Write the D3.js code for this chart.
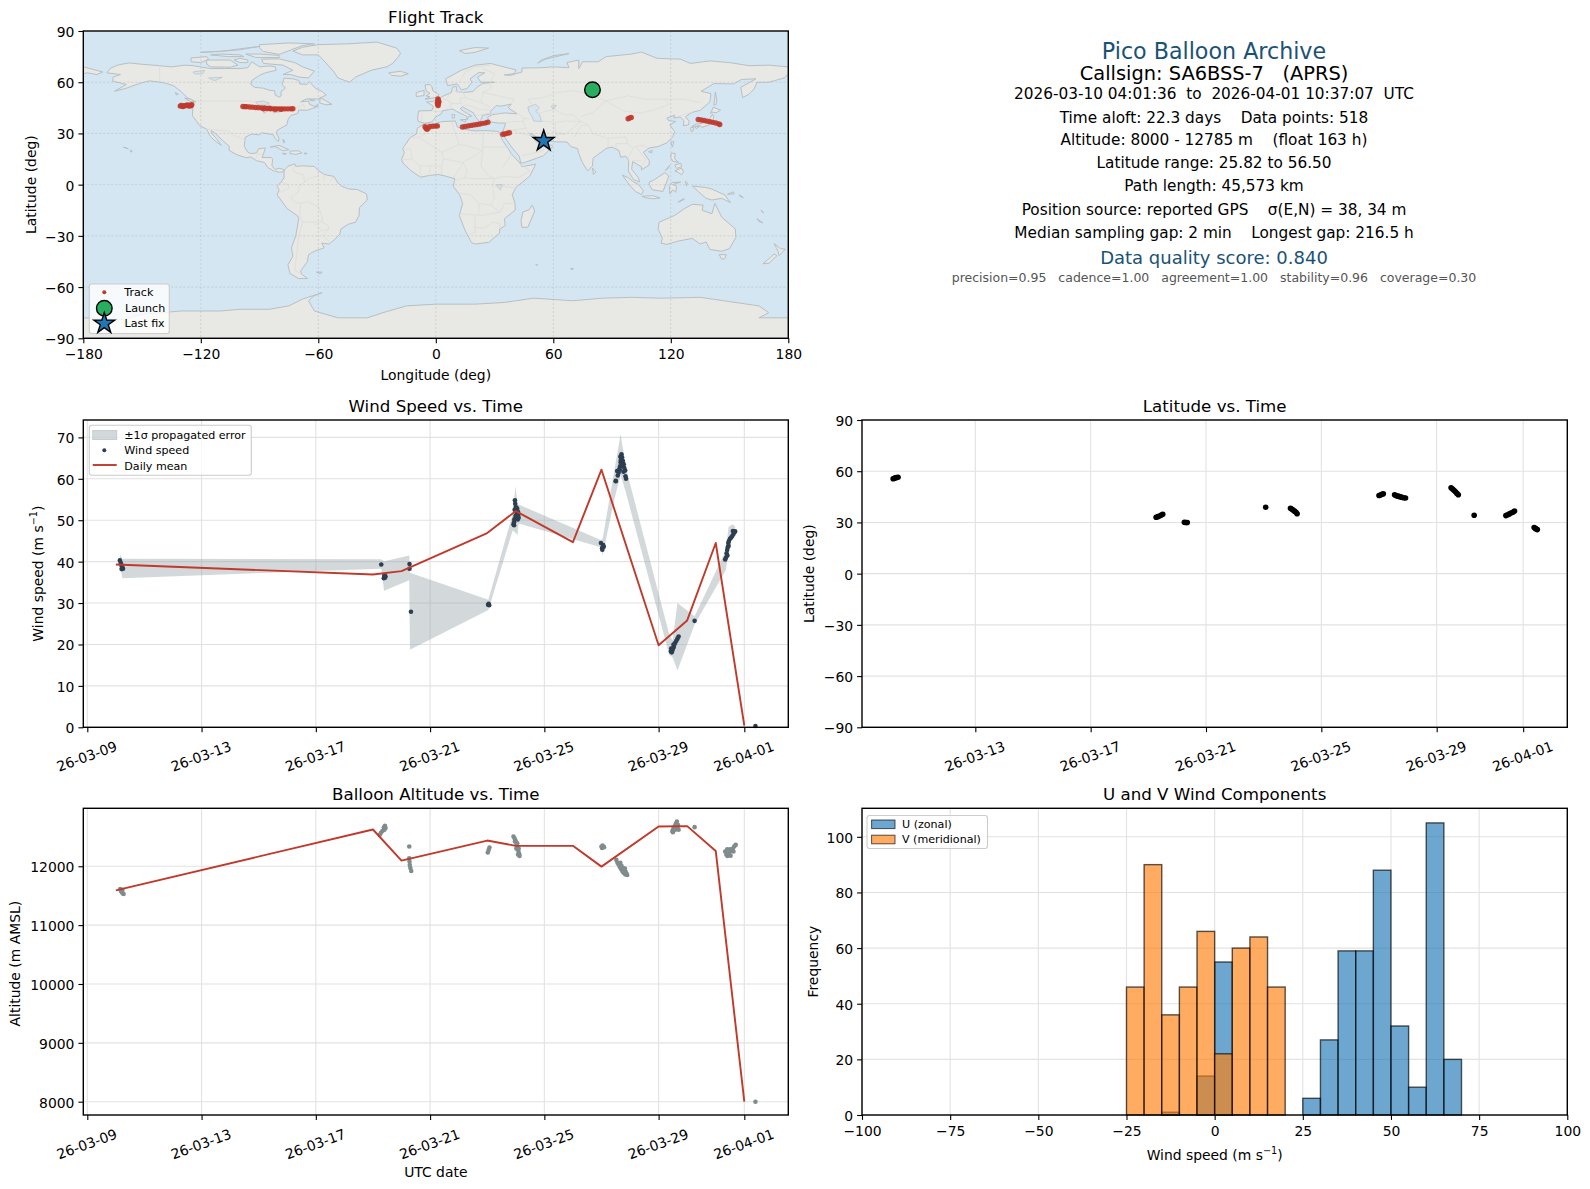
<!DOCTYPE html>
<html><head><meta charset="utf-8">
<script src="https://cdn.jsdelivr.net/npm/d3@7"></script>
<style>html,body{margin:0;padding:0;background:#fff}svg{display:block}text{font-family:"DejaVu Sans",sans-serif;fill:#000}</style>
</head><body><svg id="c" width="1590" height="1189"></svg>
<script>
// ---------- categories / labels ----------
const dateTickLabels = ["2026-03-09","2026-03-13","2026-03-17","2026-03-21","2026-03-25","2026-03-29","2026-04-01"];
const latDateTickLabels = dateTickLabels.slice(1);
const lonTicks = [-180,-120,-60,0,60,120,180];
const latTicks = [-90,-60,-30,0,30,60,90];
const windTicks = [0,10,20,30,40,50,60,70];
const altTicks = [8000,9000,10000,11000,12000];
const histXTicks = [-100,-75,-50,-25,0,25,50,75,100];
const histYTicks = [0,20,40,60,80,100];
const infoLines = [
 ["Pico Balloon Archive",22.2,"#1a5276"],
 ["Callsign: SA6BSS-7   (APRS)",19.4,"#000"],
 ["2026-03-10 04:01:36  to  2026-04-01 10:37:07  UTC",15.3,"#000"],
 ["Time aloft: 22.3 days    Data points: 518",15.3,"#000"],
 ["Altitude: 8000 - 12785 m    (float 163 h)",15.3,"#000"],
 ["Latitude range: 25.82 to 56.50",15.3,"#000"],
 ["Path length: 45,573 km",15.3,"#000"],
 ["Position source: reported GPS    σ(E,N) = 38, 34 m",15.3,"#000"],
 ["Median sampling gap: 2 min    Longest gap: 216.5 h",15.3,"#000"],
 ["Data quality score: 0.840",18,"#1a5276"],
 ["precision=0.95   cadence=1.00   agreement=1.00   stability=0.96   coverage=0.30",12.5,"#555"]
];
// ---------- map track (lon, lat) ----------
const trackLon = [-130.5,-129.5,-128.5,-127.5,-126.5,-125.5,-124.6,-130,-127,-125,-129,-126,
 -98.5,-97.5,-96.5,-95,-93.5,-92,-90.5,-89,-87.5,-86,-84.5,-83,-81.5,-80,-78.5,-77,-75.5,-74,-73,-88,-85,-82,-79,
 -5.5,-5,-4.5,-4,-3,-1.5,0,0.8,
 1.1,1.2,1.3,1.2,1.1,1.0,1.2,1.6,0.8,
 13.6,15,16.5,18,19.5,21,22.5,24,25.5,26.6,
 34.2,35.2,36.5,37.6,
 98.2,99,99.8,
 134,135.5,137,138.5,140,141.5,143,144.5,145,
 81.5];
const trackLat = [46.0,46.1,46.2,46.3,46.4,46.6,46.9,46.4,46.7,46.2,45.8,46,
 45.8,45.7,45.7,45.5,45.4,45.2,45.1,45.0,44.9,44.6,44.5,44.4,44.4,44.4,44.4,44.4,44.4,44.4,44.5,44.5,44.8,44.1,44.1,
 33.9,33.0,32.4,33.1,34.1,34.2,34.3,34.4,
 50.2,49.6,49,48.4,47.6,46.9,46.3,48.5,47.8,
 33.8,34.1,34.4,34.7,35,35.2,35.5,35.9,36.2,36.6,
 29.5,29.7,30.1,30.4,
 38.6,39,39.4,
 38.2,37.9,37.6,37.2,36.9,36.5,36.1,35.6,35.2,
 56];
const launchFix = [80.0,55.6];
const lastFix = [55.1,25.6];
// ---------- latitude vs time ----------
const latDay = [1.15,1.19,1.23,1.27,1.32,10.27,10.33,10.39,10.45,10.5,11.25,11.3,11.35,14.07,14.93,14.97,15.02,15.07,15.12,15.16,
 18,18.05,18.1,18.15,18.54,18.6,18.66,18.72,18.78,18.85,18.92,20.5,20.55,20.6,20.65,20.7,20.75,21.3,22.4,22.46,22.52,22.58,22.64,22.7,23.38,23.42,23.46,23.49];
const latVal = [55.6,55.9,56.1,56.3,56.5,33,33.4,33.8,34.3,34.8,30.1,30,30,38.9,38.3,37.8,37.3,36.6,35.9,35.1,
 45.8,46.1,46.5,46.8,46.2,45.7,45.4,45.1,44.8,44.5,44.3,50.3,49.6,48.8,48,47,46.2,34.2,34,34.5,35,35.5,36,36.7,27,26.5,26.1,25.8];
// ---------- wind speed ----------
const windDay = [1.14,1.17,1.19,1.21,1.23,1.25,1.2,10.29,10.38,10.4,10.42,10.44,10.41,11.28,11.28,11.33,14.05,14.03,14.07,
 14.92,14.94,14.95,14.97,14.98,15,15.01,15.03,15.04,15.05,15.07,15.08,15.1,14.96,14.99,15.02,15.05,15.08,14.94,
 17.98,18.02,18.05,18.03,18.08,18.06,
 18.5,18.55,18.6,18.62,18.65,18.67,18.7,18.72,18.75,18.78,18.8,18.83,18.86,18.5,18.68,18.7,18.57,18.64,18.72,18.77,18.84,18.66,
 20.43,20.46,20.48,20.5,20.53,20.55,20.58,20.62,20.66,20.7,20.44,20.47,20.52,21.26,
 22.33,22.36,22.38,22.4,22.42,22.44,22.46,22.5,22.54,22.58,22.62,22.65,22.68,22.41,22.45,22.6,23.39];
const windVal = [40.3,39.7,39.3,38.8,38.5,38.3,38.2,39.3,36,36.5,36.1,36.4,36.7,38.3,39.4,27.9,29.8,29.6,29.5,
 49,49.5,50.2,54.8,54,53.2,52.2,51.5,51,50.5,50.2,51.2,50.6,52.5,51,53,52.8,52,48.8,
 44.5,43.2,43.7,42.9,43.6,44,
 59.5,61.9,61.5,62.3,63,64,65.9,65.2,64.3,63.5,62.6,62,60,59.4,64.5,63.3,60.8,62.2,63.1,61.7,60.6,65.3,
 18.3,18.1,18.6,19,19.4,20,20.4,20.9,21.4,21.9,19,18.8,20,25.7,
 40.5,41,42,42.8,43.5,44.5,45,45.5,45.8,46.2,46.7,47.1,47.3,41.5,43.8,47.4,0.3];
const bandDay = [1.14,1.225,10.29,10.39,11.27,11.295,14.04,14.89,14.99,15.06,15.10,17.98,18.04,18.45,18.67,18.86,20.37,20.49,20.66,21.26,22.35,22.45,22.59,22.68];
const bandLow = [39.5,36,38.3,33,35.5,18.7,28.3,47.5,47,46.4,49.2,43.5,41.5,55,61,56.5,17.5,16.9,13.7,24.8,37.9,42,46.8,46.5];
const bandHigh = [41.8,40.7,40.6,40.1,41.5,37.3,30.8,51.5,58.2,54,53.8,45.2,45.5,62,70.8,62.5,22.5,21,30,26.8,42.7,48.4,49,48.5];
const meanDay = [1,10,11,14,15,17,18,20,21,22,23];
const meanWind = [39.3,36.9,37.7,46.9,52.2,44.7,62.2,19.8,25.8,44.5,0.4];
// ---------- altitude ----------
const meanAlt = [11591,12625,12097,12437,12347,12347,11994,12676,12682,12261,8000];
const altDay = [1.15,1.18,1.21,1.24,1.27,1.23,10.24,10.28,10.33,10.38,10.42,10.44,10.4,11.27,11.27,11.28,11.29,11.31,11.34,
 14.02,14.05,14.08,14.92,14.96,15,15.03,15.06,15.09,15.12,15.13,15.02,14.97,15.05,15.1,15.08,18,18.04,18.09,18.02,
 18.52,18.56,18.6,18.64,18.68,18.72,18.76,18.8,18.84,18.88,18.9,18.7,18.66,18.75,18.82,18.85,18.79,
 20.48,20.52,20.56,20.6,20.64,20.68,20.7,20.5,20.58,20.66,21.26,
 22.33,22.37,22.41,22.45,22.5,22.55,22.6,22.65,22.7,22.4,22.47,22.52,22.62,23.39];
const altVal = [11614,11580,11560,11540,11528,11600,12534,12570,12600,12660,12688,12650,12620,12335,12136,12080,12020,11970,11920,
 12233,12275,12318,12506,12470,12430,12370,12320,12260,12210,12176,12300,12420,12390,12300,12200,12335,12350,12325,12310,
 12108,12060,12030,11990,11960,11930,11900,11880,11860,11870,11852,12010,12060,11970,11960,11900,11930,
 12600,12640,12680,12720,12761,12700,12620,12580,12620,12660,12665,
 12250,12200,12176,12220,12290,12260,12300,12340,12364,12290,12210,12180,12250,8000];
// ---------- histogram ----------
const binStart = [-25,-20,-15,-10,-5,0,5,10,15,20,25,30,35,40,45,50,55,60,65];
const binWidth = 5;
const uCounts = [0,0,1,0,14,55,0,0,0,0,6,27,59,59,88,32,10,105,20];
const vCounts = [46,90,36,46,66,22,60,64,46,0,0,0,0,0,0,0,0,0,0];
// ---------- world outline (lon,lat) ----------
const landPolygons = [
 // Chukotka wrap
 [[-180,69],[-175,67.5],[-170,66],[-173,64.5],[-178,65.5],[-180,65]],
 // North America
 [[-168,65.5],[-166,68.3],[-162,70.2],[-156.5,71.3],[-150,70.5],[-141,69.7],[-135,69],[-128,70],[-124,69.7],[-115,68],[-108,68],[-100,68],[-96,68.5],[-94,72],[-90,69],[-85,69.5],[-82,69],[-81.5,67],[-87,65.5],[-90,64],[-94,61],[-94.5,58.7],[-92.5,57],[-88,56.5],[-85,55.3],[-82.3,55],[-82,52.5],[-80,51.3],[-79,52],[-79,54.5],[-76.8,56.5],[-78.5,58.8],[-77.5,62.4],[-73,62],[-70,61],[-69.5,59],[-66,58.7],[-64.5,60.3],[-61.5,56.5],[-58,54.5],[-56,52.5],[-60,50.2],[-66,50.2],[-69,48.5],[-65,49],[-64.5,47],[-61,45.5],[-65.5,43.6],[-70,43.7],[-70.5,41.7],[-74,40.5],[-75.5,38],[-76,35],[-78,33.8],[-81,31.8],[-81.3,30],[-80,26.8],[-80.5,25.2],[-82,27],[-83,29.2],[-85.5,29.8],[-89,30.3],[-90,29.2],[-94,29.6],[-97.3,27.8],[-97.8,22.5],[-96,19],[-94.5,18.2],[-91.5,18.6],[-90.5,21],[-87,21.5],[-88,18],[-88.7,15.9],[-84,15.9],[-83.3,14.9],[-83.7,11],[-82,9],[-79.6,9.6],[-77.3,8.6],[-78,7.5],[-80,7.3],[-83,8.2],[-85.7,10],[-87.5,13],[-91.5,14],[-94.5,16.2],[-97,15.8],[-101.5,17.5],[-105.5,20],[-105.5,22.5],[-109,26],[-112.5,30],[-114.7,31.7],[-114.5,30],[-112,27],[-109.5,23],[-112,25],[-115,28],[-117,32.5],[-120.6,34.6],[-122.5,37.7],[-124.3,40.4],[-124,46],[-124.7,48.4],[-122.5,48.5],[-127,51],[-130,54.5],[-134,58],[-139,59.7],[-146,60.8],[-151,59.4],[-158,56.5],[-164,54.7],[-158,58.7],[-165,60.6],[-164.8,63],[-161,64.5]],
 // Arctic islands
 [[-80,73.7],[-72,71.5],[-68,69],[-62,66.5],[-65,62.5],[-70,63],[-74,64.5],[-78,64.5],[-73,67],[-78,70],[-88,71],[-89,73.5]],
 [[-117,73],[-105,73],[-101,70],[-105,68.8],[-115,69],[-117,70.5]],
 [[-125,74.2],[-117,75],[-116,73.5],[-120,71.5],[-125,72]],
 [[-90,80],[-88,78],[-80,76.3],[-76,78],[-68,81.5],[-62,82.5],[-75,83],[-90,82]],
 [[-97,76.5],[-92,74.5],[-80,74.5],[-80,75.7],[-90,76.5]],
 [[-110,76.5],[-100,76],[-98,75],[-106,75],[-115,76]],
 [[-120,77.5],[-105,78.5],[-100,79],[-90,81],[-97,80],[-110,78]],
 [[-100,74],[-96,73],[-96,71.5],[-100,71.5],[-103,73]],
 [[-59,51],[-53,47],[-56,46.8],[-59.3,47.8]],
 [[-64.5,49.9],[-61.8,49.3],[-64,49.2]],
 [[-60.5,47],[-60,46],[-61.5,45.6]],
 [[-128.2,50.7],[-125,50],[-123.5,48.4],[-125.5,48.8]],
 [[-133,54],[-131.5,53],[-132.5,52.5]],
 [[-84.5,22],[-80,23],[-75,20.5],[-78,19.9],[-82,22.3]],
 [[-74.4,19.7],[-70,19.8],[-68.4,18.6],[-71.5,17.7],[-74.4,18.2]],
 [[-78.3,18.4],[-76.3,18.1],[-77.5,17.8]],
 [[-67.2,18.5],[-65.7,18.3],[-67,17.9]],
 [[-78,26.7],[-77,25],[-77.8,24.5]],
 [[-156,20.2],[-155,19.7],[-155.7,19]],
 [[-159.5,22],[-158,21.4],[-157,21]],
 // Greenland
 [[-73,78.2],[-68,76],[-60,76],[-55,70],[-52,66],[-50,62.5],[-44,60],[-41,63],[-33,67],[-25,69],[-22,71],[-19,75],[-18,77],[-20,80],[-30,83.5],[-45,82.5],[-60,82],[-68,80.5]],
 // South America
 [[-77.3,8.6],[-75.5,10.8],[-72,12.2],[-71.5,10.7],[-68,11],[-62,10.7],[-60,8.3],[-57,6],[-52,4.8],[-50,1],[-48,-1],[-44.5,-2.5],[-40,-2.9],[-35.3,-5.5],[-35,-9],[-39,-13.5],[-39.2,-18],[-41,-22],[-44.7,-23.2],[-48.5,-26],[-49,-29],[-52,-32.5],[-54.5,-34.8],[-58.3,-34.2],[-57,-37],[-62,-39],[-65,-41],[-65.5,-45],[-69,-50.5],[-68.5,-52.5],[-65.5,-55],[-70,-55],[-74.5,-52],[-75.5,-47],[-73,-42],[-73.7,-37],[-71.5,-30],[-70,-20],[-70.5,-18.3],[-76,-14],[-81,-6],[-80,-3],[-81,-1],[-79,1.5],[-77.5,4],[-77.5,7]],
 [[-61,-51.2],[-58,-51.3],[-59,-52.2]],
 // Africa
 [[-5.8,35.8],[-2,35.2],[3,36.9],[10,37.3],[11,33.8],[15,32.3],[20,31.5],[25,31.7],[32,31.2],[32.5,29.9],[34,26],[37,21],[38.6,18],[43,12.5],[44,10.5],[51,12],[48,5],[41,-1.5],[39,-6],[40.5,-11],[40.5,-15],[35,-20],[35.5,-24],[32.7,-26],[32.5,-28.5],[27,-33.8],[20,-34.8],[18.3,-34],[15,-27],[12,-18],[13.7,-11],[12.2,-6],[9,-1],[9.7,3.5],[5,5],[1,6],[-4,5.2],[-8,4.4],[-13,8.5],[-16.7,12.5],[-17.5,14.7],[-16,19],[-17,21],[-13,27.7],[-9.8,29.7],[-9.5,33]],
 [[49.3,-12],[50.5,-15.5],[47,-25],[44,-25],[43.5,-21],[44.5,-16],[47.5,-14.8]],
 // Eurasia
 [[-9,37],[-9.3,38.8],[-8.8,43.2],[-2,43.4],[-1.2,46],[-4.7,48.4],[-1.5,48.7],[1.5,50.5],[4,52],[8,54],[8.5,57],[10.5,57.6],[10.5,54.5],[14,54],[19,54.5],[21,57],[24,59.3],[30,60],[23,60],[21.3,63],[25,65.5],[22,65.7],[17.5,62],[18.5,60],[16,56.3],[13,55.5],[11,59],[6,58],[5,62],[13,67],[20,70],[28,71],[33,69.5],[41,67.2],[40,65],[35,64.3],[38,64],[44,66],[44,68.3],[54,68.5],[60,69],[68,68.5],[67,71.5],[73,73],[73,68],[75,72],[83,72],[87,75],[100,76.5],[105,77.7],[113,74],[125,73.5],[130,71],[140,72.5],[150,71.5],[160,69.7],[170,70],[180,69],[180,65],[178,62.5],[170,60],[164,59.9],[162.5,56],[160,53],[156.7,51],[155.7,57],[163.5,62],[156,61.6],[152,59],[142,59.2],[135.5,54.7],[140.5,53.3],[140,48.5],[135,43.5],[130.7,42.3],[127.5,39.8],[129.4,37],[129,35],[126.4,34.5],[126.7,37.5],[124.7,39.7],[121.5,39],[122,40.7],[118,39],[119,37.4],[122.5,37],[119.5,35],[122,31],[121,28],[118,24.5],[113.5,22.3],[109,21.5],[106,19],[109,14],[109,11.5],[105,8.7],[105,10.5],[100.5,13.5],[100,9],[103.5,4],[104,1.5],[101,3],[98.3,8],[98.5,14],[97,16.7],[94.5,16],[93.5,20],[90,22],[87,21.2],[80.3,15.5],[80,11],[77.5,8],[74.8,13],[72.8,19],[72.5,21],[69,22.3],[67,25],[61.5,25.1],[57.3,25.7],[56.5,27],[51.5,27.8],[48.5,30],[48,29.7],[50,26.7],[51.5,25],[54,24.2],[56.3,26],[56.8,24.2],[59.8,22.5],[55,17],[52,15.7],[45,12.8],[43.3,12.7],[42.7,16.5],[39,21.5],[35,28],[34.9,29.5],[34.3,31.3],[35.7,36],[32,36.1],[28,36.7],[26.3,39.3],[29,41],[35,42],[41.5,41.5],[37,45],[38.5,47.2],[33.5,46],[30.8,46.3],[28,43],[28,41.4],[24,40.7],[23,38],[22.5,36.6],[19.5,41],[19.3,42],[13.5,45.7],[12.5,44.3],[16,41.7],[18.4,40.2],[16.7,40],[16,38],[15.8,40],[10.5,43],[8.7,44.3],[3.2,43.2],[3,41.7],[0,39.7],[-2,36.8],[-5.5,36]],
 // Europe islands
 [[-5.5,58.5],[-3,58.6],[-2,57.5],[-1.5,55],[1.5,52.8],[1,51.2],[-5.5,50],[-3,51.5],[-5,52],[-3,53.5],[-5,55]],
 [[-10,54],[-6,55.2],[-6,52.2],[-10,51.6]],
 [[-24,65.5],[-18,66.4],[-14,65],[-18,63.5],[-22.5,64]],
 [[52,71.2],[56,73.5],[68,76.8],[60,75.5],[54,73]],
 [[12,78.5],[20,80.3],[27,80],[20,77.5],[15,76.8]],
 [[8.2,41],[9.7,41],[9.5,39],[8.4,39]],
 [[12.5,38],[15.5,38.2],[15,36.7]],
 [[23.5,35.5],[26.2,35.2],[24.5,34.9]],
 // Australia and neighbours
 [[114,-22],[113.5,-26],[115.7,-31.5],[115,-34.3],[118,-35],[124,-33],[131,-31.5],[135,-34.8],[138,-33.5],[140,-38],[146,-39],[150,-37.5],[153.2,-31],[153,-26],[146,-19],[142.5,-11],[141,-17],[136,-15],[136.5,-12],[131,-11.5],[127,-14],[122,-18],[118,-20]],
 [[144.7,-41],[148.3,-41],[147.5,-43.5],[146,-43.6]],
 [[172.8,-34.5],[176,-37.5],[178.5,-37.8],[175.3,-41.5],[174.8,-39]],
 [[172.7,-40.6],[174.2,-41.7],[171,-45],[170.5,-46],[167,-46.3],[171,-42.5]],
 [[131,-0.8],[138,-1.7],[141,-2.6],[147.5,-6],[150.5,-10.5],[146,-8],[141,-9],[138,-8],[134,-4]],
 [[149,-5.6],[152,-4.2],[152.3,-5.5]],
 [[155,-6],[157,-7.5],[155.5,-7]],
 [[166,-15],[167.5,-16.5],[166.5,-15.8]],
 [[164,-20],[167,-22.3],[165,-21.7]],
 // Asia islands
 [[95.3,5.6],[98,4.2],[100.5,2],[103.5,0],[106,-3.5],[105,-5.8],[102,-4],[99.5,-1],[97.5,2]],
 [[105.2,-6.8],[108.5,-6.6],[111,-6.5],[114.5,-7.8],[111,-8.3],[107,-7.7]],
 [[109,1.5],[111.5,2.8],[117,7],[119,5],[117.7,1],[116,-4],[110.5,-3],[109,0]],
 [[119.5,-5.5],[119.3,-1],[120.5,1.2],[125,1.5],[121,0],[123,-1],[122.5,-4.5],[121,-3]],
 [[127.5,2],[128.5,1],[128,-0.8]],
 [[126,-8.5],[127,-8.5],[123.7,-10.3]],
 [[120.2,18.4],[122.2,18.3],[122,15],[124,13],[121,13.7],[120,16]],
 [[122,11.5],[125.2,12.5],[125.5,10.5],[123,9.5]],
 [[122,8],[125.5,9.7],[126.5,7.5],[125.5,5.8],[124,7]],
 [[117.2,8.3],[119.5,11.3],[118.2,9]],
 [[120,25],[121.6,25.2],[120.8,22]],
 [[108.7,19.3],[110.5,20],[110.3,18.6]],
 [[80,9.7],[81.8,7.5],[80.5,6]],
 [[130.2,33.5],[131.7,33.6],[131.3,31.3],[130.3,31.3]],
 [[132.3,34],[134.5,34],[133,32.8]],
 [[130.9,34.2],[133,35.5],[136,35.8],[137,37.2],[139.5,38],[141.3,41.3],[142,39.5],[140.7,35.7],[138.8,34.7],[135.8,33.5],[135,34.6],[132.5,34.2]],
 [[140.2,41.6],[141.7,45.4],[145.4,43.6],[143,42],[141,42.5]],
 [[142,46.7],[142.8,54.3],[143.5,49],[143,46.8]],
 [[51,-46.8],[52,-47],[51.5,-47.2]],
 [[68.8,-49],[70.3,-49.3],[69.3,-49.8]],
 // Antarctica
 [[-180,-78],[-160,-79],[-150,-76],[-130,-74],[-110,-74],[-100,-73],[-85,-73],[-75,-71],[-68,-67],[-58,-63.3],[-62,-65],[-65,-68],[-62,-74],[-50,-78],[-35,-78],[-27,-75],[-15,-71],[0,-70],[20,-70],[35,-69],[50,-66.5],[70,-68],[85,-66.5],[100,-66],[115,-66.5],[135,-66],[150,-68.5],[165,-71],[170,-75],[165,-78],[180,-78],[180,-90],[-180,-90]]
];
const inlandSeas = [
 [[47,45.5],[51,47],[53,45],[51,43],[53,41],[54,37],[50,37.3],[49,40],[47.5,43]],
 [[-92,48.5],[-88,49],[-85,47.7],[-87,46.6],[-91,46.8]],
 [[-88,46],[-86,46],[-85.5,43.5],[-87.8,41.8]],
 [[-84,46],[-80,45.5],[-81.8,43.3]],
 [[-83,42],[-79,42.8],[-76.5,43.5],[-79.5,43.7]],
 [[-124,66],[-118,67],[-119,65],[-123,64.8]],
 [[-116,62.5],[-109,62.9],[-113,60.9]],
 [[31,0],[34,0],[33,-3],[32,-2]],
 [[59,46],[61.5,46.5],[60,44]]
];
const borderLines = [
 [[-141,69.7],[-141,60.3]],[[-123,49],[-95,49],[-89,48],[-84,46.5],[-82.5,43],[-79,43],[-75,45],[-71,45],[-67.5,47.2],[-67,45]],
 [[-117,32.5],[-108,31.5],[-106.5,31.8],[-103,29],[-97.3,26]],[[-92.2,14.5],[-91,18],[-88.5,18]],
 [[-72,12],[-73,8],[-70,6.5],[-67.5,6],[-67,1.5],[-70,-1],[-70,-4],[-74,-7.5],[-72.5,-10],[-69,-11],[-69.5,-17.5],[-68,-22],[-70,-30],[-71,-40],[-72,-50],[-68.5,-52.5]],
 [[-60,8.3],[-60,5],[-64,4],[-67,1.5]],[[-57,6],[-57,2]],[[-52,4.8],[-54,2.3]],[[-78.5,1.5],[-75.5,0],[-75,-2],[-79,-4.5],[-80.3,-3.5]],
 [[-69,-11],[-65.5,-10],[-60,-13],[-58,-19],[-58,-22],[-62.5,-22],[-68,-22]],[[-58,-22],[-55,-24],[-54.5,-26],[-58,-27],[-62.5,-22]],[[-54.5,-26],[-57.5,-30],[-53.5,-34]],
 [[-8.7,27.7],[-13,27.7]],[[-8.7,27.7],[-2,32],[-1.2,35]],[[-8.7,27.7],[3,19],[12,23.5],[10,30],[8,37]],[[3,19],[4,15],[14,13],[24,20],[24,31.7]],[[12,23.5],[15,23],[24,20]],[[24,22],[37,22]],[[14,13],[16,8],[14.5,4],[9,2]],[[24,20],[23,11],[27,5],[30,3.5],[35,5],[42,4],[48,8],[43,12]],[[34,10],[36.5,14],[38.6,18]],[[-17,21],[-13,21],[-12,15],[-17,14.5]],[[-12,15],[-8,11],[-3,11],[3,11],[4,15]],[[3,6],[3,11]],[[-3,11],[-3,5]],[[-8,11],[-8,4.4]],[[9,4],[14,13]],
 [[14.5,4],[18,3.5],[30,3.5]],[[12,-5],[18,-6],[22,-11],[28,-12],[30,-8],[29,-1],[30,3.5]],[[30,-1],[34,-1],[41,-2]],[[12,-17],[24,-18],[33,-16],[35,-11],[40.5,-11]],[[22,-11],[22,-18]],[[20,-18],[20,-28],[17,-29]],[[20,-25],[25,-25.5],[29,-22],[33,-23],[32.5,-26]],[[28,-12],[33,-16]],
 [[-1.8,43.4],[3,42.5]],[[-7,42],[-7.3,37.2]],[[2.5,51],[6,49.5],[8,47.5],[7,44],[7.5,44]],[[6,51],[7,53.4]],[[9,54.8],[14,54]],[[14,54],[15,51],[12,50.3],[13,47.5],[8,47.5]],[[15,51],[19,49.5],[23,48],[28,45.5]],[[23,48],[24,54],[28,56],[28,60]],[[24,54],[32,52],[40,50],[38.5,47.2]],[[13.5,46],[16.5,46.5],[22.5,44],[28,43.7]],[[19.5,42],[21,40.5],[26,41.5]],
 [[12,60],[15,66],[20,69],[28,70]],[[24,68],[30,65],[28,60.5]],
 [[26,41.8],[33,42]],[[42,41.5],[45,39],[44.5,37],[42,37],[36,36.5]],[[44.5,37],[46,33],[48,30]],[[46,33],[39,32],[36,32.5],[35.5,33]],[[39,32],[47,29],[48.5,28.5]],[[51,24.5],[55,20],[52,19],[44,17]],[[55,20],[56,24.5]],[[44.5,39],[48,38.5]],[[54,37.3],[61,36.5],[61,31],[63,26]],[[61,36.5],[66,37.3],[74,37],[78,35]],[[61,31],[66,29.5],[70,33],[74,37]],[[66,29.5],[61,29.5]],[[71,28],[74,34.5],[78,35]],[[78,35],[80,30],[88,27],[92,27.5],[97,28]],[[97,28],[98,24],[101,21.5],[102,22.5],[106,23],[108,21.6]],[[88,27],[88,22]],[[92,24],[92,21]],[[98,24],[94,24],[92,24]],[[101,21.5],[98,15]],[[102,22.5],[105,18],[107,14.5],[105,10.5]],[[100.5,14],[105,14]],
 [[50,46],[53,42],[60,44],[66,41],[70,41],[74,37]],[[50,46],[47,50],[55,51],[62,54],[70,55],[77,53.5],[87,49],[80,42],[74,40]],[[87,49],[98,52],[107,50],[117,50],[127,50],[135,48]],[[87,49],[96,43],[105,42],[112,44],[119,47],[117,50]],[[130.7,42.3],[128,41.8],[124,40]],[[127.5,39],[126.7,38]]
];
// ---------- layout ----------
const L1=83.3, R1=788.3, L2=862, R2=1567.3;
const rows={map:[31,338.3],mid:[420,727.3],bot:[808.3,1115]};
const svg=d3.select("#c");
const grid="#e2e2e2", INK="#000", RED="#c0392b";
const day0=Date.UTC(2026,2,9);
const toDate=d=>new Date(day0+d*864e5);
const parseDay=d3.utcParse("%Y-%m-%d");
const fmtDate=d3.utcFormat("%y-%m-%d");
const timeDomain1=[toDate(-0.14),toDate(24.54)];
const timeDomain2=[toDate(0.07),toDate(24.53)];

function frame(g,x,y,top,bot,l,r){
  g.append("rect").attr("x",l).attr("y",top).attr("width",r-l).attr("height",bot-top).attr("fill","none").attr("stroke",INK).attr("stroke-width",1.4);
}
function axisStyle(ax){
  ax.select(".domain").remove();
  ax.selectAll(".tick line").attr("stroke",INK).attr("stroke-width",1.1);
  ax.selectAll(".tick text").attr("fill",INK).style("font-size","13.9px").style("font-family",'"DejaVu Sans"');
}
function makeAxes(l,r,top,bot,x,y,xt,yt,xf,yf,opts={}){
  const g=svg.append("g");
  const gg=g.append("g");
  if(!opts.noGrid){
    gg.selectAll(".gx").data(xt).join("line").attr("x1",d=>x(d)).attr("x2",d=>x(d)).attr("y1",top).attr("y2",bot).attr("stroke",grid).attr("stroke-width",1.1);
    gg.selectAll(".gy").data(yt).join("line").attr("y1",d=>y(d)).attr("y2",d=>y(d)).attr("x1",l).attr("x2",r).attr("stroke",grid).attr("stroke-width",1.1);
  }
  const plot=g.append("g");
  const over=svg.append("g");
  const ax=over.append("g").attr("transform",`translate(0,${bot})`).call(d3.axisBottom(x).tickValues(xt).tickFormat(xf).tickSize(4.9).tickPadding(6));
  axisStyle(ax);
  const ay=over.append("g").attr("transform",`translate(${l},0)`).call(d3.axisLeft(y).tickValues(yt).tickFormat(yf).tickSize(4.9).tickPadding(4));
  axisStyle(ay);
  ay.selectAll(".tick text").attr("dy","0.39em");
  if(opts.rot){
    ax.selectAll(".tick text").attr("text-anchor","middle").attr("dy",null).attr("y",null)
      .attr("transform","translate(-1,29) rotate(-20)").attr("dominant-baseline","central");
  }
  frame(over,x,y,top,bot,l,r);
  return {plot,over};
}
function title(t,cx,top){svg.append("text").attr("x",cx).attr("y",top-8.3).attr("text-anchor","middle").style("font-size","16.67px").text(t);}
function xlabel(t,cx,yy,sup){const e=svg.append("text").attr("x",cx).attr("y",yy).attr("text-anchor","middle").attr("dominant-baseline","central").style("font-size","13.9px").text(t);
  if(sup){e.append("tspan").attr("dy",-5).style("font-size","9.7px").text(sup);e.append("tspan").attr("dy",5).text(")");}}
function ylabel(t,xx,cy,sup){const e=svg.append("text").attr("transform",`translate(${xx},${cy}) rotate(-90)`).attr("text-anchor","middle").attr("dominant-baseline","central").style("font-size","13.9px").text(t);
  if(sup){e.append("tspan").attr("dy",-5).style("font-size","9.7px").text(sup);e.append("tspan").attr("dy",5).text(")");}}
function legendBox(l,t,w,h){svg.append("rect").attr("x",l).attr("y",t).attr("width",w).attr("height",h).attr("rx",2.5).attr("fill","#fff").attr("fill-opacity",.8).attr("stroke","#ccc").attr("stroke-width",1.1);}
function legendText(t,x,y){svg.append("text").attr("x",x).attr("y",y).attr("dominant-baseline","central").style("font-size","11.1px").attr("fill","#000").text(t);}

// ---------- Map ----------
(function(){
  const [top,bot]=rows.map;
  const x=d3.scaleLinear().domain([-180,180]).range([L1,R1]);
  const y=d3.scaleLinear().domain([-90,90]).range([bot,top]);
  const {plot}=makeAxes(L1,R1,top,bot,x,y,lonTicks,latTicks,d3.format("d"),d3.format("d"),{noGrid:true});
  const clipId="mapclip";
  svg.append("clipPath").attr("id",clipId).append("rect").attr("x",L1).attr("y",top).attr("width",R1-L1).attr("height",bot-top);
  plot.attr("clip-path",`url(#${clipId})`);
  plot.append("rect").attr("x",L1).attr("y",top).attr("width",R1-L1).attr("height",bot-top).attr("fill","#d4e6f1");
  const ln=d3.line().x(d=>x(d[0])).y(d=>y(d[1]));
  plot.selectAll(".land").data(landPolygons).join("path").attr("d",d=>ln(d)+"Z").attr("fill","#e8e8e4").attr("stroke","#b8bfc3").attr("stroke-width",1).attr("stroke-linejoin","round");
  plot.selectAll(".sea").data(inlandSeas).join("path").attr("d",d=>ln(d)+"Z").attr("fill","#d4e6f1").attr("stroke","#b8bfc3").attr("stroke-width",.7);
  plot.selectAll(".border").data(borderLines).join("path").attr("d",ln).attr("fill","none").attr("stroke","#dcdcd8").attr("stroke-width",.8);
  plot.selectAll(".gv").data(lonTicks.slice(1,-1)).join("line").attr("x1",d=>x(d)).attr("x2",d=>x(d)).attr("y1",top).attr("y2",bot).attr("stroke","#aab0b4").attr("stroke-opacity",.5).attr("stroke-width",.8).attr("stroke-dasharray","2 2");
  plot.selectAll(".gh").data(latTicks.slice(1,-1)).join("line").attr("y1",d=>y(d)).attr("y2",d=>y(d)).attr("x1",L1).attr("x2",R1).attr("stroke","#aab0b4").attr("stroke-opacity",.5).attr("stroke-width",.8).attr("stroke-dasharray","2 2");
  plot.selectAll(".tr").data(trackLon).join("circle").attr("cx",d=>x(d)).attr("cy",(d,i)=>y(trackLat[i])).attr("r",2.7).attr("fill",RED).attr("fill-opacity",.9);
  const star=d3.symbol(d3.symbolStar,135);
  plot.append("circle").attr("cx",x(launchFix[0])).attr("cy",y(launchFix[1])).attr("r",7.8).attr("fill","#27ae60").attr("stroke","#000").attr("stroke-width",1.4);
  plot.append("path").attr("d",star()).attr("transform",`translate(${x(lastFix[0])},${y(lastFix[1])})`).attr("fill","#1f77b4").attr("stroke","#000").attr("stroke-width",1.4);
  legendBox(89.3,284,80,49.5);
  svg.append("circle").attr("cx",104.3).attr("cy",292.3).attr("r",2).attr("fill",RED);
  svg.append("circle").attr("cx",104.3).attr("cy",308.3).attr("r",7.8).attr("fill","#27ae60").attr("stroke","#000").attr("stroke-width",1.4);
  svg.append("path").attr("d",star()).attr("transform","translate(104.3,323.5)").attr("fill","#1f77b4").attr("stroke","#000").attr("stroke-width",1.4);
  legendText("Track",124.3,292.3);legendText("Launch",125,308.3);legendText("Last fix",124.5,323.3);
  title("Flight Track",(L1+R1)/2,top);
  xlabel("Longitude (deg)",(L1+R1)/2,375);
  ylabel("Latitude (deg)",30.5,(top+bot)/2);
})();

// ---------- Info ----------
const infoY=[50.7,73,94.2,117.5,139.8,163,186.4,209.7,233,257.3,277.6];
svg.selectAll(".info").data(infoLines).join("text").attr("x",1214).attr("y",(d,i)=>infoY[i]).attr("text-anchor","middle").attr("dominant-baseline","central")
  .style("font-size",d=>d[1]+"px").style("fill",d=>d[2]).attr("xml:space","preserve").style("white-space","pre").text(d=>d[0]);

// ---------- Wind ----------
(function(){
  const [top,bot]=rows.mid;
  const x=d3.scaleUtc().domain(timeDomain1).range([L1,R1]);
  const y=d3.scaleLinear().domain([0,74.2]).range([bot,top]);
  const {plot}=makeAxes(L1,R1,top,bot,x,y,dateTickLabels.map(parseDay),windTicks,fmtDate,d3.format("d"),{rot:true});
  const area=d3.area().x((d,i)=>x(toDate(d))).y0((d,i)=>y(bandLow[i])).y1((d,i)=>y(bandHigh[i]));
  plot.append("path").datum(bandDay).attr("d",area).attr("fill","#95a5a6").attr("fill-opacity",.42);
  plot.selectAll(".w").data(windDay).join("circle").attr("cx",d=>x(toDate(d))).attr("cy",(d,i)=>y(windVal[i])).attr("r",2.3).attr("fill","#2c3e50");
  const ln=d3.line().x((d,i)=>x(toDate(d))).y((d,i)=>y(meanWind[i]));
  plot.append("path").datum(meanDay).attr("d",ln).attr("fill","none").attr("stroke",RED).attr("stroke-width",1.9).attr("stroke-linejoin","round");
  legendBox(89.3,425.3,162,50);
  svg.append("rect").attr("x",92.7).attr("y",430.5).attr("width",24).attr("height",9).attr("fill","#95a5a6").attr("fill-opacity",.42).attr("stroke","#95a5a6").attr("stroke-opacity",.42);
  svg.append("circle").attr("cx",104.3).attr("cy",450.3).attr("r",2).attr("fill","#2c3e50");
  svg.append("line").attr("x1",92.7).attr("x2",116.7).attr("y1",465).attr("y2",465).attr("stroke",RED).attr("stroke-width",1.9);
  legendText("±1σ propagated error",124.3,435);legendText("Wind speed",124.3,450.3);legendText("Daily mean",124.3,466);
  title("Wind Speed vs. Time",(L1+R1)/2,top);
  ylabel("Wind speed (m s",37.5,(top+bot)/2,"−1");
})();

// ---------- Latitude ----------
(function(){
  const [top,bot]=rows.mid;
  const x=d3.scaleUtc().domain(timeDomain2).range([L2,R2]);
  const y=d3.scaleLinear().domain([-90,90]).range([bot,top]);
  const {plot}=makeAxes(L2,R2,top,bot,x,y,latDateTickLabels.map(parseDay),latTicks,fmtDate,d3.format("d"),{rot:true});
  plot.selectAll(".l").data(latDay).join("circle").attr("cx",d=>x(toDate(d))).attr("cy",(d,i)=>y(latVal[i])).attr("r",2.8).attr("fill","#000");
  title("Latitude vs. Time",(L2+R2)/2,top);
  ylabel("Latitude (deg)",808.5,(top+bot)/2);
})();

// ---------- Altitude ----------
(function(){
  const [top,bot]=rows.bot;
  const x=d3.scaleUtc().domain(timeDomain1).range([L1,R1]);
  const y=d3.scaleLinear().domain([7774,12985]).range([bot,top]);
  const {plot}=makeAxes(L1,R1,top,bot,x,y,dateTickLabels.map(parseDay),altTicks,fmtDate,d3.format("d"),{rot:true});
  plot.selectAll(".a").data(altDay).join("circle").attr("cx",d=>x(toDate(d))).attr("cy",(d,i)=>y(altVal[i])).attr("r",2.3).attr("fill","#7f8c8d");
  const ln=d3.line().x((d,i)=>x(toDate(d))).y((d,i)=>y(meanAlt[i]));
  plot.append("path").datum(meanDay).attr("d",ln).attr("fill","none").attr("stroke",RED).attr("stroke-width",1.9).attr("stroke-linejoin","round");
  title("Balloon Altitude vs. Time",(L1+R1)/2,top);
  xlabel("UTC date",(L1+R1)/2,1172);
  ylabel("Altitude (m AMSL)",15,(top+bot)/2+2);
})();

// ---------- Histogram ----------
(function(){
  const [top,bot]=rows.bot;
  const x=d3.scaleLinear().domain([-100,100]).range([L2,R2]);
  const y=d3.scaleLinear().domain([0,110.25]).range([bot,top]);
  const {plot}=makeAxes(L2,R2,top,bot,x,y,histXTicks,histYTicks,d3.format("d"),d3.format("d"));
  function bars(counts,color){
    plot.append("g").selectAll("rect").data(binStart).join("rect")
      .attr("x",d=>x(d)).attr("width",d=>x(d+binWidth)-x(d))
      .attr("y",(d,i)=>y(counts[i])).attr("height",(d,i)=>y(0)-y(counts[i]))
      .attr("fill",color).attr("fill-opacity",.65).attr("stroke","#000").attr("stroke-opacity",.65).attr("stroke-width",1.4);
  }
  bars(uCounts,"#1f77b4");bars(vCounts,"#ff7f0e");
  legendBox(867,815.5,120.5,33);
  svg.append("rect").attr("x",871.6).attr("y",820).attr("width",23.4).attr("height",8.6).attr("fill","#1f77b4").attr("fill-opacity",.65).attr("stroke","#000").attr("stroke-opacity",.65);
  svg.append("rect").attr("x",871.6).attr("y",835.2).attr("width",23.4).attr("height",8.6).attr("fill","#ff7f0e").attr("fill-opacity",.65).attr("stroke","#000").attr("stroke-opacity",.65);
  legendText("U (zonal)",902,824);legendText("V (meridional)",902,839.2);
  title("U and V Wind Components",(L2+R2)/2,top);
  xlabel("Wind speed (m s",(L2+R2)/2,1155,"−1");
  ylabel("Frequency",812.5,(top+bot)/2);
})();
</script></body></html>
